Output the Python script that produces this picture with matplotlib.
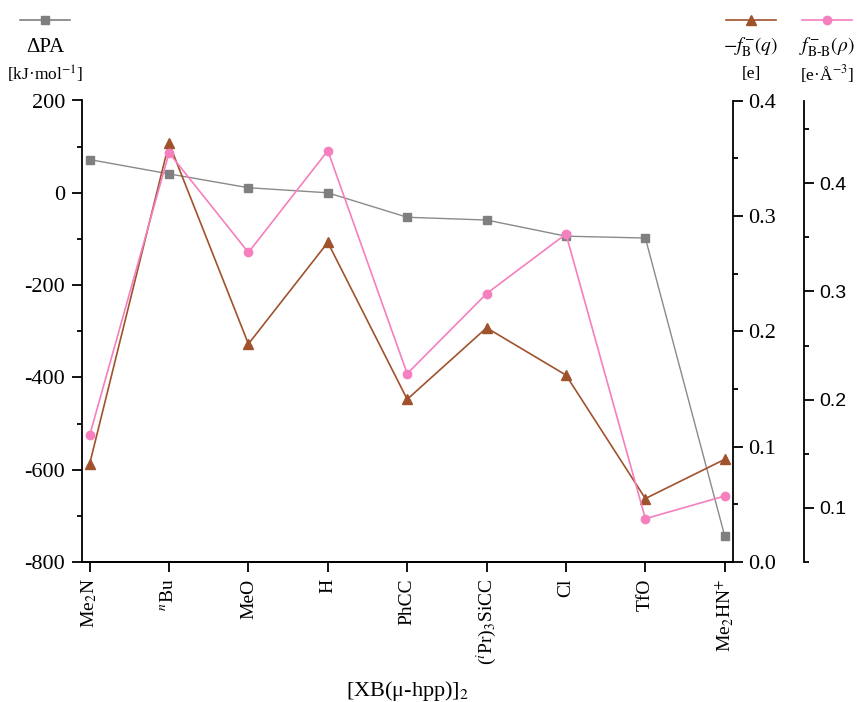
import numpy as np
import matplotlib
matplotlib.use("Agg")
import matplotlib.pyplot as plt
from matplotlib.lines import Line2D
from matplotlib.ticker import MultipleLocator

plt.rcParams["font.family"] = ["Liberation Serif", "DejaVu Serif"]
plt.rcParams["mathtext.fontset"] = "stix"
plt.rcParams["axes.unicode_minus"] = False

# data
substituents = ["Me$_2$N", "$^{n}$Bu", "MeO", "H", "PhCC", "($^{i}$Pr)$_3$SiCC",
                "Cl", "TfO", "Me$_2$HN$^{+}$"]
delta_pa = [72, 41, 11, 0, -53, -59, -94, -98, -744]          # kJ/mol
charge_q = [0.085, 0.363, 0.189, 0.277, 0.141, 0.203, 0.162, 0.055, 0.089]
density_rho = [0.167, 0.428, 0.336, 0.430, 0.224, 0.298, 0.353, 0.090, 0.111]

GRAY = "#7f7f7f"
BROWN = "#a0522d"
PINK = "#f57fbf"

W, H = 857, 702
fig = plt.figure(figsize=(W / 100, H / 100), dpi=100)
ax = fig.add_axes([81.7 / W, 1 - 562 / H, 651 / W, 461.5 / H])
ax2 = ax.twinx()
ax3 = ax.twinx()
ax3.spines["right"].set_position(("axes", 1 + 71.5 / 651))

x = np.arange(len(substituents))
ax.plot(x, delta_pa, color="#8a8a8a", lw=1.0, marker="s", ms=5.5,
        mfc=GRAY, mec=GRAY, zorder=3)
ax2.plot(x, charge_q, color=BROWN, lw=1.2, marker="^", ms=6.5,
         mfc=BROWN, mec=BROWN, zorder=3)
ax3.plot(x, density_rho, color=PINK, lw=1.2, marker="o", ms=6,
         mfc=PINK, mec=PINK, zorder=3)

ax.set_xlim(-0.1, len(substituents) - 0.9)
ax.set_ylim(-800, 200)
ax2.set_ylim(0.0, 0.4)
ax3.set_ylim(0.05, 0.4764)

ax.yaxis.set_major_locator(MultipleLocator(200))
ax.yaxis.set_minor_locator(MultipleLocator(100))
ax2.yaxis.set_major_locator(MultipleLocator(0.1))
ax2.yaxis.set_minor_locator(MultipleLocator(0.05))
ax2.yaxis.set_major_formatter(plt.FormatStrFormatter("%.1f"))
ax3.yaxis.set_major_locator(MultipleLocator(0.1))
ax3.yaxis.set_minor_locator(MultipleLocator(0.05))
ax3.yaxis.set_major_formatter(plt.FormatStrFormatter("%.1f"))

ax.set_xticks(x)
ax.set_xticklabels(substituents, rotation=90, fontsize=14)

for a in (ax, ax2, ax3):
    a.spines["top"].set_visible(False)
    for s in a.spines.values():
        s.set_linewidth(1.3)
    a.tick_params(which="major", direction="out", length=7, width=1.3)
    a.tick_params(which="minor", direction="out", length=3.6, width=1.3)
ax.spines["right"].set_visible(False)
ax3.spines["left"].set_visible(False)
ax2.spines["left"].set_visible(False)
ax.tick_params(axis="y", labelsize=16, pad=5)
ax.tick_params(axis="x", pad=5)
ax2.tick_params(axis="y", labelsize=16, pad=4)
ax3.tick_params(axis="y", labelsize=14, pad=4,
                labelfontfamily="Liberation Sans")

ax.set_xlabel("[XB(μ-hpp)]$_2$", fontsize=16, labelpad=10)


# legend blocks above each axis
def legend_block(xc, color, marker, ms, name, unit, size=15):
    fx = xc / W
    half = 25 / W
    fy = 1 - 20 / H
    fig.add_artist(Line2D([fx - half, fx, fx + half], [fy, fy, fy],
                          transform=fig.transFigure, color=color, lw=1.2,
                          marker=marker, ms=ms, markevery=[1], mfc=color,
                          mec=color))
    fig.text(fx, 1 - 47 / H, name, ha="center", va="center", fontsize=size)
    fig.text(fx, 1 - 74 / H, unit, ha="center", va="center", fontsize=12.5)


legend_block(45, GRAY, "s", 5.5, "ΔPA", "[kJ·mol$^{-1}$]")
legend_block(751, BROWN, "^", 6.5, r"$-f_{\mathrm{B}}^{-}(q)$", "[e]", 14)
legend_block(827, PINK, "o", 6, r"$f_{\mathrm{B\text{-}B}}^{-}(\rho)$",
             "[e·Å$^{-3}$]", 14)

fig.savefig("out.png", dpi=100)
